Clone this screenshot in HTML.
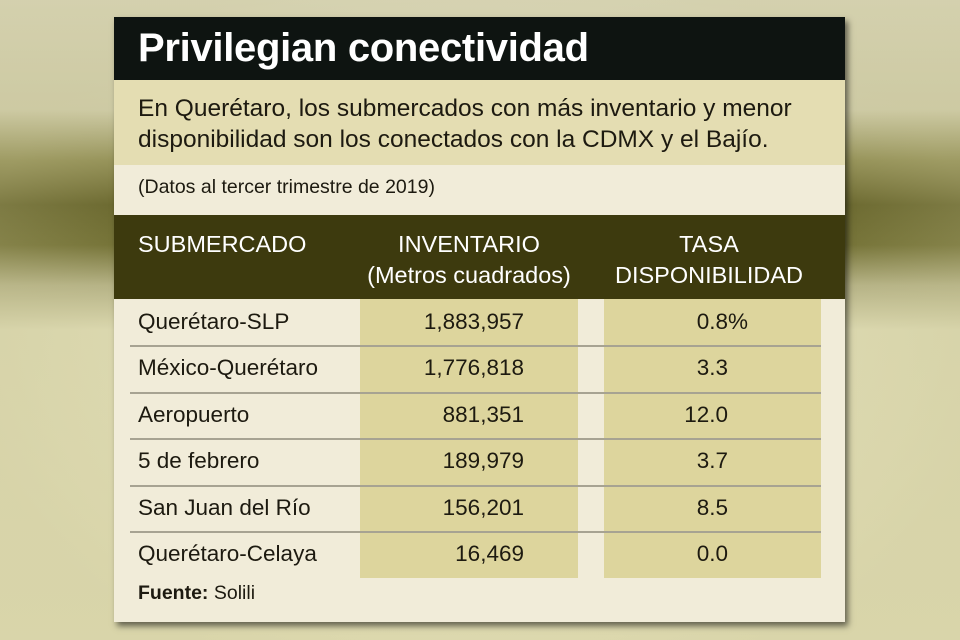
<!DOCTYPE html>
<html><head><meta charset="utf-8"><style>
body{margin:0;width:960px;height:640px;overflow:hidden;font-family:"Liberation Sans",sans-serif;
background:
radial-gradient(ellipse 520px 380px at 480px 330px, rgba(240,236,215,0.0) 60%, rgba(200,196,150,0.3) 100%),
linear-gradient(180deg,#d9d6b8 0px,#cfcca8 110px,#8d8a4e 160px,#5f5d22 205px,#6d6b2e 245px,#b4b184 285px,#dcd9b0 330px,#e0dcb2 640px);
position:relative}
.p{position:absolute;left:114px;top:17px;width:731px;height:605px;background:#f1ecd9;box-shadow:3px 4px 6px rgba(0,0,0,.55)}
.t{position:absolute;left:0;top:0;width:731px;height:63px;background:#0e1411;color:#fff;font-weight:bold;font-size:40px;line-height:63px;padding-left:24px;box-sizing:border-box;letter-spacing:-0.3px}
.s{position:absolute;left:0;top:63px;width:731px;height:85px;background:#e4ddb2;color:#1d1a10;font-size:24.5px;line-height:31px;padding:13px 0 0 24px;box-sizing:border-box}
.d{position:absolute;left:24px;top:159px;font-size:19.5px;color:#1d1a10}
.h{position:absolute;left:0;top:198px;width:731px;height:84px;background:#3d3a0e;color:#fff;font-size:23.5px;line-height:31px}
.h div{position:absolute;top:14px;text-align:center}
.col{position:absolute;top:282px;height:279px;background:#ddd59d}
.ln{position:absolute;left:16px;width:691px;height:2px;background:#a7a392}
.r{position:absolute;font-size:22.5px;color:#1d1a10;line-height:46.4px}
</style></head><body>
<div class="p">
<div class="t">Privilegian conectividad</div>
<div class="s">En Querétaro, los submercados con más inventario y menor<br>disponibilidad son los conectados con la CDMX y el Bajío.</div>
<div class="d">(Datos al tercer trimestre de 2019)</div>
<div class="h">
<div style="left:24px;text-align:left">SUBMERCADO</div>
<div style="left:230px;width:250px">INVENTARIO<br>(Metros cuadrados)</div>
<div style="left:475px;width:240px">TASA<br>DISPONIBILIDAD</div>
</div>
<div class="col" style="left:246px;width:218px"></div>
<div class="col" style="left:490px;width:217px"></div>
<div class="ln" style="top:328px"></div>
<div class="ln" style="top:375px"></div>
<div class="ln" style="top:421px"></div>
<div class="ln" style="top:468px"></div>
<div class="ln" style="top:514px"></div>
<div class="r" style="left:24px;top:282px">Querétaro-SLP<br>México-Querétaro<br>Aeropuerto<br>5 de febrero<br>San Juan del Río<br>Querétaro-Celaya</div>
<div class="r" style="left:246px;width:164px;top:282px;text-align:right">1,883,957<br>1,776,818<br>881,351<br>189,979<br>156,201<br>16,469</div>
<div class="r" style="left:490px;width:124px;top:282px;text-align:right">0.8<span style="position:absolute">%</span><br>3.3<br>12.0<br>3.7<br>8.5<br>0.0</div>
<div style="position:absolute;left:24px;top:565px;font-size:19.5px;color:#1d1a10"><b>Fuente:</b> Solili</div>
</div>
</body></html>
